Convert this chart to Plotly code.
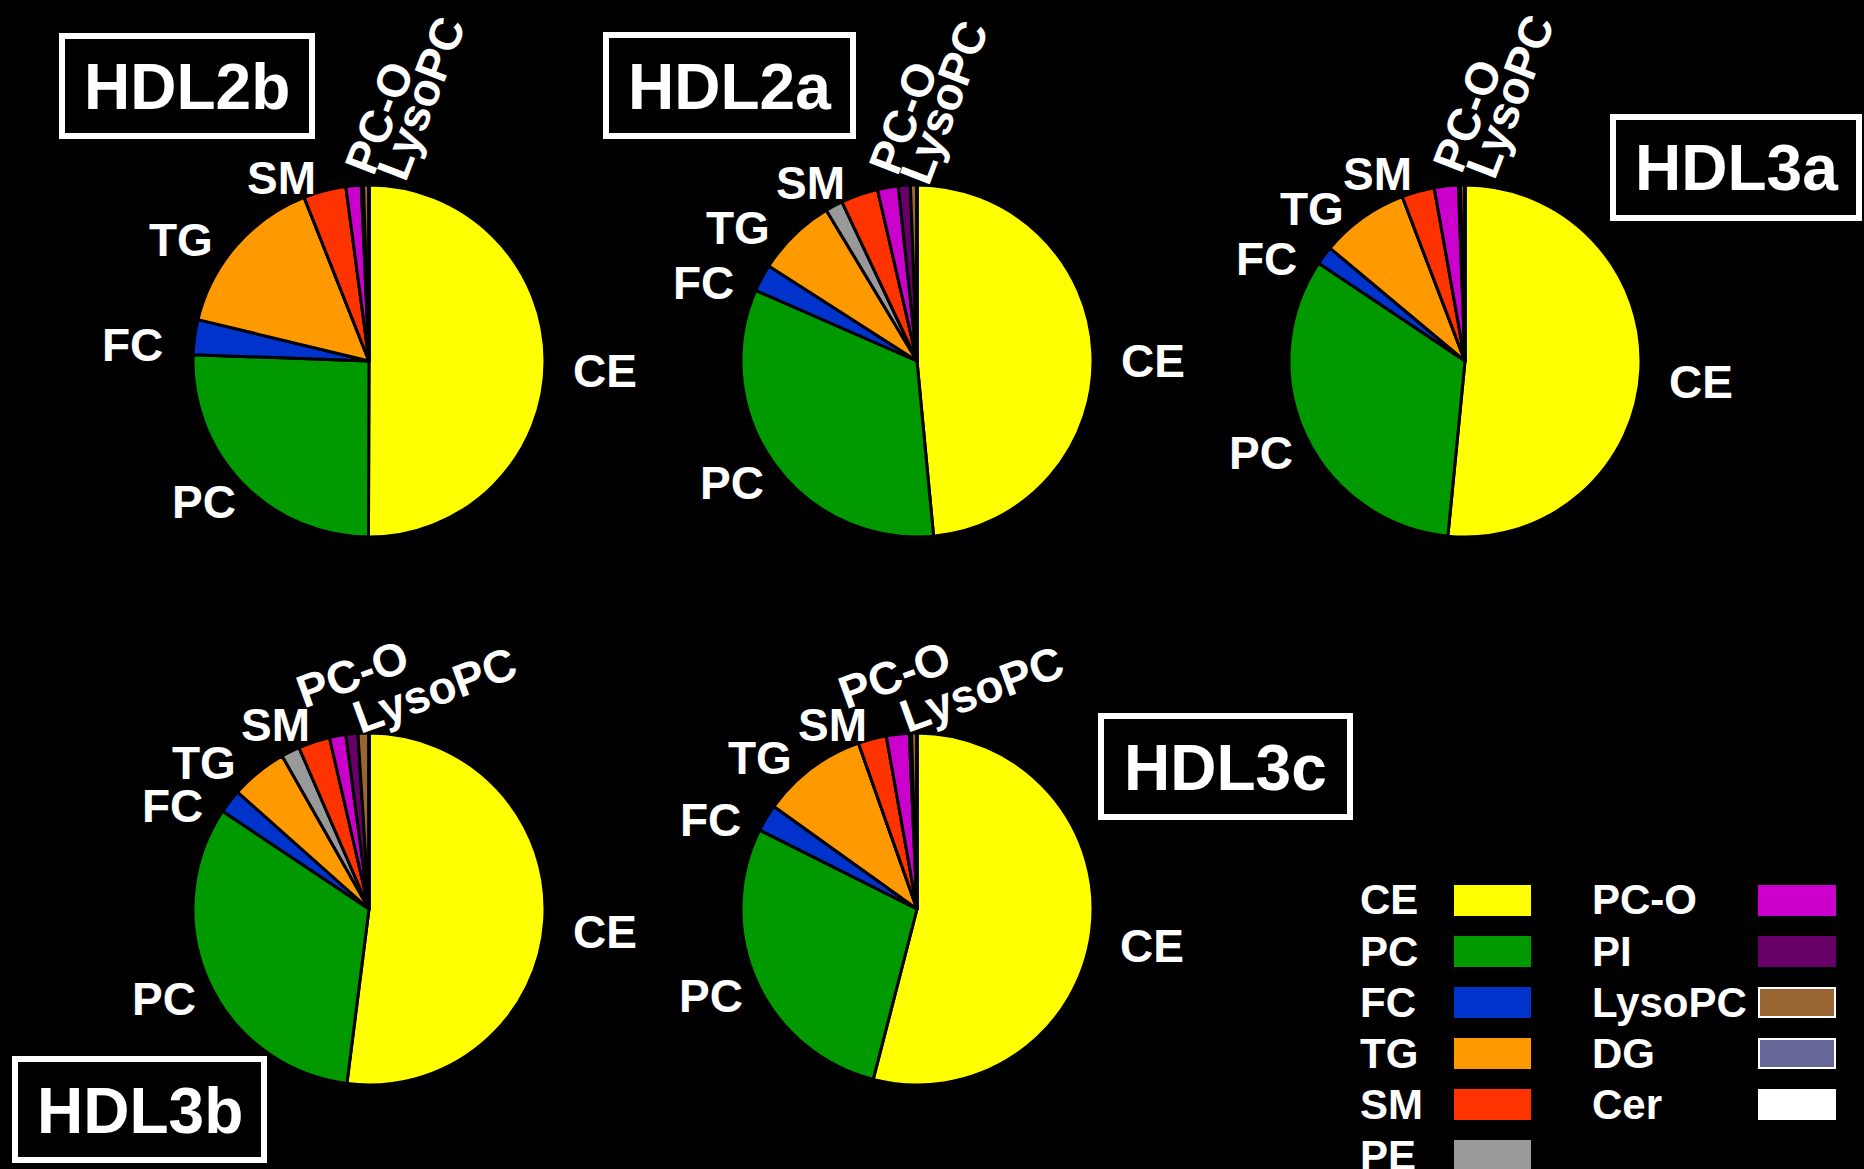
import plotly.graph_objects as go

# Lipid classes, in slice order (clockwise from 12 o'clock)
lipids = ["CE", "PC", "FC", "TG", "PE", "SM", "PC-O", "PI", "LysoPC", "DG", "Cer"]
lipid_colors = ["#FFFF00", "#009900", "#0033CC", "#FF9900", "#999999", "#FF3300",
                "#CC00CC", "#660066", "#996633", "#666699", "#FFFFFF"]

# Composition (% of total lipid) of each HDL subfraction
hdl2b = [50.0, 25.5, 3.2, 15.2, 0.0, 3.9, 1.4, 0.2, 0.5, 0.0, 0.0]
hdl2a = [48.4, 33.0, 2.5, 7.3, 1.6, 3.4, 1.9, 1.1, 0.6, 0.0, 0.0]
hdl3a = [51.5, 32.8, 1.7, 8.1, 0.0, 3.0, 2.2, 0.2, 0.4, 0.0, 0.0]
hdl3b = [51.9, 32.3, 2.2, 5.2, 1.7, 2.9, 1.5, 1.1, 1.0, 0.0, 0.0]
hdl3c = [54.0, 28.4, 2.5, 9.7, 0.0, 2.6, 2.1, 0.2, 0.5, 0.0, 0.0]

fractions = ["HDL2b", "HDL2a", "HDL3a", "HDL3b", "HDL3c"]
compositions = [hdl2b, hdl2a, hdl3a, hdl3b, hdl3c]

# Legend layout: two columns
legend_left = ["CE", "PC", "FC", "TG", "SM", "PE"]
legend_right = ["PC-O", "PI", "LysoPC", "DG", "Cer"]

W, H = 1864, 1169
FONT = "Liberation Sans, Arial, sans-serif"


def fx(x):
    return x / W


def fy(y):
    return 1 - y / H


R = 176
centers = [(369, 361), (917, 361), (1465, 361), (369, 909), (917, 909)]

fig = go.Figure()
for name, vals, (cx, cy) in zip(fractions, compositions, centers):
    fig.add_trace(go.Pie(
        labels=lipids,
        values=vals,
        name=name,
        sort=False,
        direction="clockwise",
        rotation=0,
        textinfo="none",
        showlegend=False,
        marker=dict(colors=lipid_colors, line=dict(color="#000000", width=3)),
        domain=dict(x=[fx(cx - R), fx(cx + R)], y=[fy(cy + R), fy(cy - R)]),
    ))

annotations = []
shapes = []


def label(text, x, y, size=46, angle=0, anchor="center"):
    annotations.append(dict(
        text="<b>%s</b>" % text, x=fx(x), y=fy(y), xref="paper", yref="paper",
        xanchor=anchor, yanchor="middle", showarrow=False, textangle=angle,
        font=dict(family=FONT, size=size, color="#FFFFFF"),
    ))


# Slice labels around each pie
slice_labels = [
    {"CE": (605, 371), "PC": (204, 502), "FC": (132, 345), "TG": (181, 240),
     "SM": (281, 178), "PC-O": (379, 118), "LysoPC": (421, 98)},
    {"CE": (1153, 361), "PC": (732, 483), "FC": (703, 283), "TG": (738, 228),
     "SM": (810, 183), "PC-O": (903, 118), "LysoPC": (944, 102)},
    {"CE": (1701, 382), "PC": (1261, 453), "FC": (1266, 259), "TG": (1312, 209),
     "SM": (1377, 174), "PC-O": (1467, 116), "LysoPC": (1510, 96)},
    {"CE": (605, 932), "PC": (164, 999), "FC": (172, 806), "TG": (204, 763),
     "SM": (275, 725), "PC-O": (352, 674), "LysoPC": (435, 690)},
    {"CE": (1152, 946), "PC": (711, 996), "FC": (710, 820), "TG": (760, 758),
     "SM": (832, 725), "PC-O": (894, 675), "LysoPC": (982, 689)},
]
for i, labs in enumerate(slice_labels):
    tilt = -69 if i < 3 else -20
    for name, (x, y) in labs.items():
        label(name, x, y, angle=tilt if name in ("PC-O", "LysoPC") else 0)

# Subfraction title boxes
boxes = {
    "HDL2b": (59, 33, 315, 139),
    "HDL2a": (603, 32, 856, 139),
    "HDL3a": (1610, 114, 1862, 221),
    "HDL3b": (12, 1056, 267, 1163),
    "HDL3c": (1098, 713, 1353, 820),
}
bw = 6
for name, (x0, y0, x1, y1) in boxes.items():
    shapes.append(dict(
        type="rect", xref="paper", yref="paper",
        x0=fx(x0 + bw / 2), x1=fx(x1 - bw / 2), y0=fy(y1 - bw / 2), y1=fy(y0 + bw / 2),
        line=dict(color="#FFFFFF", width=bw), fillcolor="rgba(0,0,0,0)",
    ))
    label(name, (x0 + x1) / 2, (y0 + y1) / 2 + 1, size=64)

# Colour key
color_of = dict(zip(lipids, lipid_colors))
row0, step = 900, 51
for col, (names, tx, sx0, sx1) in enumerate([
        (legend_left, 1358, 1455, 1530), (legend_right, 1590, 1759, 1835)]):
    for k, name in enumerate(names):
        yc = row0 + k * step
        label(name, tx, yc, size=42, anchor="left")
        outline = "#FFFFFF" if name in ("LysoPC", "DG") else color_of[name]
        shapes.append(dict(
            type="rect", xref="paper", yref="paper",
            x0=fx(sx0), x1=fx(sx1), y0=fy(yc + 15), y1=fy(yc - 14),
            line=dict(color=outline, width=2), fillcolor=color_of[name],
        ))

fig.update_layout(
    width=W, height=H, autosize=False,
    margin=dict(l=0, r=0, t=0, b=0),
    paper_bgcolor="#000000", plot_bgcolor="#000000",
    annotations=annotations, shapes=shapes,
)

fig.write_html("out.html", config={"displayModeBar": False})
